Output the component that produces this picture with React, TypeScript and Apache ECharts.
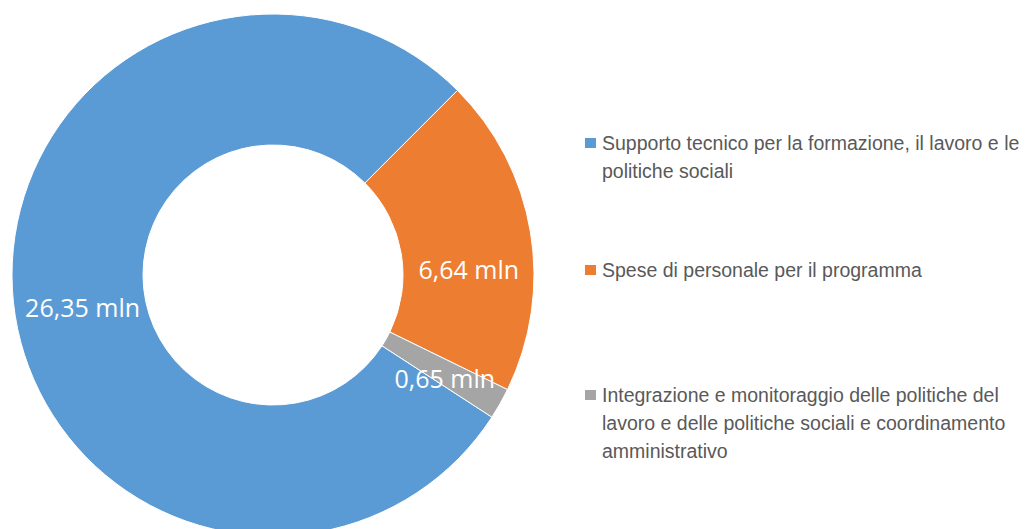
import React, { useEffect, useRef } from "react";
import * as echarts from "echarts";

const categories = [
  "Supporto tecnico per la formazione, il lavoro e le politiche sociali",
  "Spese di personale per il programma",
  "Integrazione e monitoraggio delle politiche del lavoro e delle politiche sociali e coordinamento amministrativo",
];
const legendLines = [
  ["Supporto tecnico per la formazione, il lavoro e le", "politiche sociali"],
  ["Spese di personale per il programma"],
  ["Integrazione e monitoraggio delle politiche del", "lavoro e delle politiche sociali e coordinamento", "amministrativo"],
];
const values = [26.35, 6.64, 0.65];
const valueLabels = ["26,35 mln", "6,64 mln", "0,65 mln"];
const colors = ["#5B9BD5", "#ED7D31", "#A5A5A5"];
const legendTops = [101, 256, 325];
const labelShift = [
  [7, 11],
  [0, 27],
  [-1, 5],
];

export default function App() {
  const ref = useRef<HTMLDivElement>(null);
  useEffect(() => {
    if (!ref.current) return;
    const chart = echarts.init(ref.current, undefined, { renderer: "svg" });
    const legends = categories.map((name, i) => {
      const lines = legendLines[i];
      const blanks = lines.length - 1;
      const txt = Array(blanks).fill("").concat(lines).join("\n");
      return {
        data: [name],
        orient: "vertical",
        left: 583,
        top: legendTops[i],
        padding: 0,
        itemWidth: 13,
        itemHeight: 12,
        icon: "rect",
        selectedMode: false,
        formatter: () => txt,
        textStyle: {
          color: "#595959",
          fontSize: 19.5,
          lineHeight: 28,
          fontFamily: "'Liberation Sans Narrow', 'Arial Narrow', 'Liberation Sans', Arial, sans-serif",
        },
      };
    });
    chart.setOption({
      animation: false,
      color: colors,
      legend: legends,
      series: [
        {
          type: "pie",
          center: [273, 275],
          radius: [130, 261],
          startAngle: 327,
          clockwise: true,
          avoidLabelOverlap: false,
          itemStyle: { borderColor: "#ffffff", borderWidth: 1 },
          label: {
            show: true,
            position: "inside",
            color: "#ffffff",
            fontSize: 25,
            fontFamily: "'Open Sans', sans-serif",
            formatter: (p: any) => valueLabels[p.dataIndex],
          },
          labelLine: { show: false },
          labelLayout: (p: any) => ({ dx: labelShift[p.dataIndex][0], dy: labelShift[p.dataIndex][1] }),
          emphasis: { disabled: true },
          data: categories.map((name, i) => ({ name, value: values[i] })),
        },
      ],
    });
    return () => chart.dispose();
  }, []);
  return (
    <div
      ref={ref}
      style={{ position: "absolute", left: 0, top: 0, width: 1030, height: 529 }}
    />
  );
}
